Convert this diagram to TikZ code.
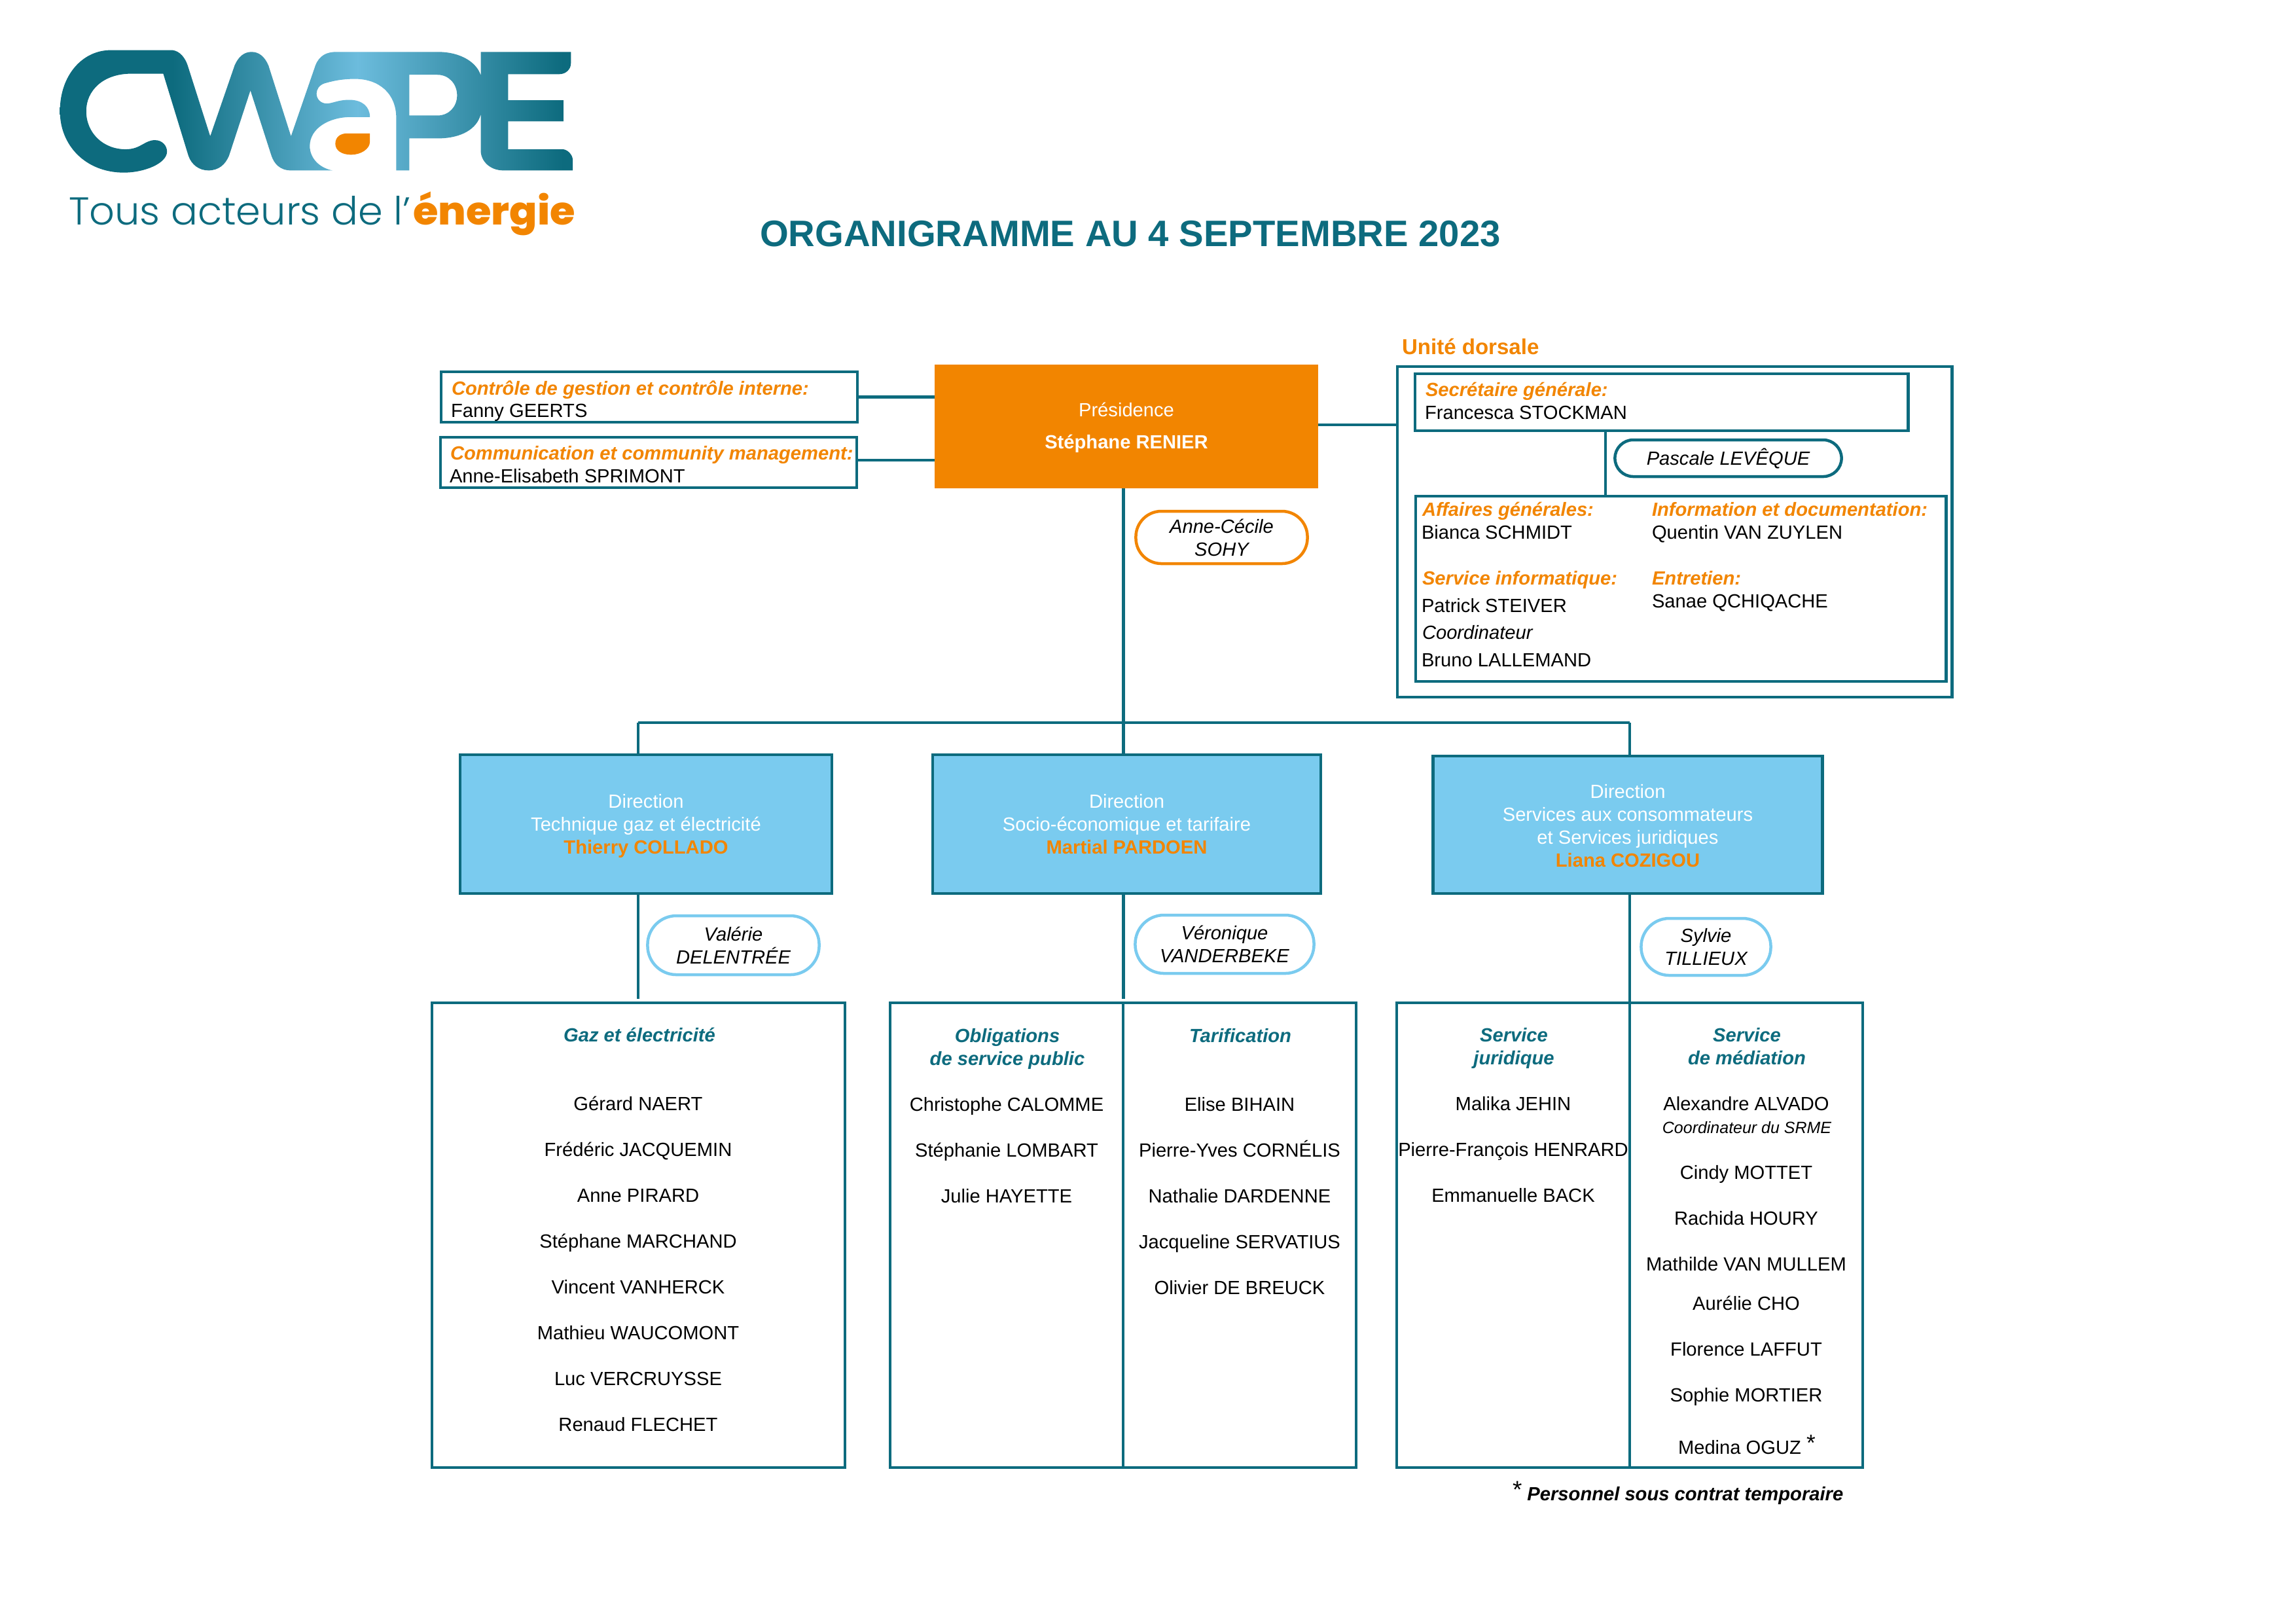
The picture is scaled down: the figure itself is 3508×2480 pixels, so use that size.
\documentclass[tikz,border=0pt]{standalone}
\usepackage{fontspec}
\setmainfont{Liberation Sans}
\newfontfamily\taglight{Poppins Light}[FakeStretch=1.02]
\newfontfamily\tagbold{Poppins ExtraBold}[FakeStretch=1.05]
\usepackage{tikz}

\definecolor{cwapeteal}{HTML}{0D6B7E}
\definecolor{cwapesky}{HTML}{6CBCDD}
\definecolor{cwapeorange}{HTML}{F28500}
\definecolor{cwapeblue}{HTML}{7ACBEF}
\pgfdeclarehorizontalshading{logofade}{100bp}{color(0bp)=(cwapeteal); color(36bp)=(cwapeteal); color(54bp)=(cwapesky); color(74bp)=(cwapeteal); color(100bp)=(cwapeteal)}
\newcommand{\orgfont}{\fontsize{8.29}{9.96}\selectfont}
\newcommand{\toplift}{\rule{0pt}{7.1pt}}

\begin{document}
\begin{tikzpicture}[x=0.01cm, y=-0.01cm]
    \tikzstyle{every node}=[
        font = \orgfont,
        inner sep = 0pt,
        outer sep = 0pt
    ]
    \tikzstyle{white box}=[
        draw = cwapeteal,
        line width = 0.045cm,
        fill = white,
        rectangle
    ]
    \tikzstyle{blue box}=[
        draw = cwapeteal,
        line width = 0.045cm,
        fill = cwapeblue,
        text = white,
        align = center,
        rectangle
    ]
    \tikzstyle{pill}=[
        line width = 0.045cm,
        fill = white,
        align = center,
        font = \orgfont\itshape,
        rectangle
    ]
    \tikzstyle{link}=[
        draw = cwapeteal,
        line width = 0.045cm
    ]
    \tikzstyle{name line}=[anchor = base]
    \tikzstyle{left line}=[anchor = base west]
    \tikzstyle{orange head}=[anchor = base west, text = cwapeorange, font = \orgfont\bfseries\itshape]
    \tikzstyle{teal head}=[anchor = base, text = cwapeteal, font = \orgfont\bfseries\itshape]

    \useasboundingbox (0, 0) rectangle (3508, 2480);

    % logo
    \begin{scope}[shift={(60, 50)}, x=0.00574cm, y=-0.00333cm]
	\shade[shading=logofade, even odd rule] (190, 80) -- (355, 80)
	    .. controls (375, 85) and (388, 115) .. (395, 150) -- (455, 475) -- (520, 150)
	    .. controls (530, 110) and (545, 88) .. (565, 88)
	    .. controls (585, 88) and (600, 110) .. (610, 150) -- (670, 475) -- (735, 150)
	    .. controls (745, 105) and (765, 88) .. (790, 88) -- (1060, 88)
	    .. controls (1125, 88) and (1165, 140) .. (1175, 195) -- (1175, 88) -- (1415, 88) -- (1415, 140)
	    .. controls (1415, 170) and (1400, 190) .. (1385, 190) -- (1248, 190) -- (1248, 310)
	    -- (1395, 310) -- (1395, 407) -- (1248, 407) -- (1248, 535) -- (1395, 535)
	    .. controls (1410, 540) and (1420, 565) .. (1420, 585) -- (1420, 632) -- (1235, 632)
	    .. controls (1200, 632) and (1175, 590) .. (1175, 540) -- (1175, 375)
	    .. controls (1165, 440) and (1125, 485) .. (1060, 485) -- (985, 485) -- (985, 632) -- (950, 632) -- (950, 390)
	    .. controls (950, 280) and (905, 212) .. (840, 212)
	    .. controls (800, 212) and (775, 225) .. (760, 232)
	    .. controls (745, 240) and (738, 260) .. (738, 280)
	    .. controls (738, 305) and (750, 325) .. (765, 325)
	    .. controls (780, 325) and (795, 308) .. (825, 308)
	    .. controls (860, 308) and (880, 340) .. (880, 387) -- (830, 387)
	    .. controls (770, 387) and (720, 440) .. (720, 520)
	    .. controls (720, 575) and (745, 620) .. (780, 632) -- (670, 632)
	    .. controls (640, 632) and (625, 600) .. (618, 565) -- (562, 265) -- (505, 565)
	    .. controls (495, 605) and (478, 632) .. (450, 632)
	    .. controls (425, 632) and (405, 605) .. (397, 565) -- (330, 188) -- (245, 188)
	    .. controls (170, 188) and (125, 265) .. (125, 360)
	    .. controls (125, 460) and (170, 535) .. (230, 535)
	    .. controls (270, 535) and (280, 493) .. (308, 493)
	    .. controls (328, 493) and (340, 520) .. (340, 545)
	    .. controls (340, 600) and (280, 642) .. (225, 642)
	    .. controls (125, 642) and (55, 520) .. (55, 360)
	    .. controls (55, 195) and (115, 80) .. (190, 80) -- cycle
	    (985, 193) -- (1060, 193)
	    .. controls (1090, 193) and (1112, 235) .. (1112, 287)
	    .. controls (1112, 340) and (1090, 380) .. (1060, 380) -- (985, 380) -- cycle;
	\fill[cwapeorange] (820, 462) -- (880, 462) -- (880, 500)
	    .. controls (880, 535) and (855, 560) .. (830, 560)
	    .. controls (805, 560) and (788, 540) .. (788, 510)
	    .. controls (788, 480) and (800, 462) .. (820, 462) -- cycle;
    \end{scope}
	\node[left line, text=cwapeteal, font=\fontsize{16.9}{20}\taglight] (tagline) at (105, 343) {Tous acteurs de l’};
	\node[left line, text=cwapeorange, font=\fontsize{16.9}{20}\tagbold] (tagenergy) at (631, 343) {énergie};

	\node[anchor=base, text=cwapeteal, font=\fontsize{16}{19}\selectfont\bfseries] (title) at (1727, 376) {ORGANIGRAMME AU 4 SEPTEMBRE 2023};

    % top row
	\node[rectangle, fill=cwapeorange, text=white, align=center, minimum width=5.86cm, minimum height=1.89cm] (presid) at (1721, 651.5) {\toplift Présidence\\[4.2pt]\textbf{Stéphane RENIER}};
	\node[white box, minimum width=6.36cm, minimum height=0.77cm] (ctrl) at (992, 606.5) {};
	\node[white box, minimum width=6.36cm, minimum height=0.77cm] (comm) at (991, 706.5) {};
	\node[orange head] (ctrlhead) at (690, 603) {Contrôle de gestion et contrôle interne:};
	\node[left line]   (ctrlname) at (689, 637) {Fanny GEERTS};
	\node[orange head] (commhead) at (688, 702) {Communication et community management:};
	\node[left line]   (commname) at (687, 737) {Anne-Elisabeth SPRIMONT};
	\node[pill, draw=cwapeorange, rounded corners=0.39cm, minimum width=2.62cm, minimum height=0.80cm] (sohy) at (1866.5, 821) {Anne-Cécile\\SOHY};

    % unite dorsale
	\node[anchor=base west, text=cwapeorange, font=\fontsize{9.4}{11}\selectfont\bfseries] (dorsalhead) at (2142, 541) {Unité dorsale};
	\node[white box, minimum width=8.47cm, minimum height=5.05cm] (dorsal) at (2558.5, 812.5) {};
	\node[white box, minimum width=7.53cm, minimum height=0.87cm] (sec) at (2538.5, 614.5) {};
	\node[white box, minimum width=8.10cm, minimum height=2.83cm] (admin) at (2568, 899.5) {};
	\node[pill, draw=cwapeteal, rounded corners=0.28cm, minimum width=3.46cm, minimum height=0.56cm] (leveque) at (2640.5, 700) {Pascale LEVÊQUE};
	\node[orange head] (sechead) at (2178, 605) {Secrétaire générale:};
	\node[left line]   (secname) at (2177, 640) {Francesca STOCKMAN};
	\node[orange head] (affhead) at (2173, 788) {Affaires générales:};
	\node[left line]   (affname) at (2172, 823) {Bianca SCHMIDT};
	\node[orange head] (infohead) at (2524, 788) {Information et documentation:};
	\node[left line]   (infoname) at (2524, 823) {Quentin VAN ZUYLEN};
	\node[orange head] (ithead) at (2173, 893) {Service informatique:};
	\node[left line]   (itnamea) at (2172, 935) {Patrick STEIVER};
	\node[left line, font=\orgfont\itshape] (itrole) at (2173, 976) {Coordinateur};
	\node[left line]   (itnameb) at (2172, 1018) {Bruno LALLEMAND};
	\node[orange head] (cleanhead) at (2524, 893) {Entretien:};
	\node[left line]   (cleanname) at (2524, 928) {Sanae QCHIQACHE};

    % directions
	\node[blue box, minimum width=5.68cm, minimum height=2.12cm] (dirtech) at (987, 1259) {Direction\\Technique gaz et électricité\\\raisebox{0pt}[\height][0pt]{\textcolor{cwapeorange}{\textbf{Thierry COLLADO}}}};
	\node[blue box, minimum width=5.93cm, minimum height=2.12cm] (dirsocio) at (1721.5, 1259) {Direction\\Socio-économique et tarifaire\\\textcolor{cwapeorange}{\textbf{Martial PARDOEN}}};
	\node[blue box, minimum width=5.95cm, minimum height=2.10cm] (dirserv) at (2487, 1260) {\toplift Direction\\Services aux consommateurs\\et Services juridiques\\\textcolor{cwapeorange}{\textbf{Liana COZIGOU}}};
	\node[pill, draw=cwapeblue, rounded corners=0.44cm, minimum width=2.62cm, minimum height=0.90cm] (delentree) at (1120.5, 1444) {Valérie\\DELENTRÉE};
	\node[pill, draw=cwapeblue, rounded corners=0.44cm, minimum width=2.73cm, minimum height=0.89cm] (vanderbeke) at (1871, 1442.5) {Véronique\\VANDERBEKE};
	\node[pill, draw=cwapeblue, rounded corners=0.43cm, minimum width=1.98cm, minimum height=0.87cm] (tillieux) at (2606.5, 1446.5) {Sylvie\\TILLIEUX};

    % services
	\node[white box, minimum width=6.31cm, minimum height=7.10cm] (gaz) at (975.5, 1887) {};
	\node[white box, minimum width=3.56cm, minimum height=7.10cm] (oblig) at (1538, 1887) {};
	\node[white box, minimum width=3.56cm, minimum height=7.10cm] (tarif) at (1894, 1887) {};
	\node[white box, minimum width=3.56cm, minimum height=7.10cm] (jurid) at (2312, 1887) {};
	\node[white box, minimum width=3.56cm, minimum height=7.10cm] (media) at (2668, 1887) {};

	\node[teal head] (gazhead) at (977, 1591) {Gaz et électricité};
	\node[name line] (gaza) at (975, 1696) {Gérard NAERT};
	\node[name line] (gazb) at (975, 1766) {Frédéric JACQUEMIN};
	\node[name line] (gazc) at (975, 1836) {Anne PIRARD};
	\node[name line] (gazd) at (975, 1906) {Stéphane MARCHAND};
	\node[name line] (gaze) at (975, 1976) {Vincent VANHERCK};
	\node[name line] (gazf) at (975, 2046) {Mathieu WAUCOMONT};
	\node[name line] (gazg) at (975, 2116) {Luc VERCRUYSSE};
	\node[name line] (gazh) at (975, 2186) {Renaud FLECHET};

	\node[teal head] (oblighead) at (1539, 1592) {Obligations};
	\node[teal head] (obligsub)  at (1539, 1627) {de service public};
	\node[name line] (obliga) at (1538, 1697) {Christophe CALOMME};
	\node[name line] (obligb) at (1538, 1767) {Stéphanie LOMBART};
	\node[name line] (obligc) at (1538, 1837) {Julie HAYETTE};

	\node[teal head] (tarifhead) at (1895, 1592) {Tarification};
	\node[name line] (tarifa) at (1894, 1697) {Elise BIHAIN};
	\node[name line] (tarifb) at (1894, 1767) {Pierre-Yves CORNÉLIS};
	\node[name line] (tarifc) at (1894, 1837) {Nathalie DARDENNE};
	\node[name line] (tarifd) at (1894, 1907) {Jacqueline SERVATIUS};
	\node[name line] (tarife) at (1894, 1977) {Olivier DE BREUCK};

	\node[teal head] (juridhead) at (2313, 1591) {Service};
	\node[teal head] (juridsub)  at (2313, 1626) {juridique};
	\node[name line] (jurida) at (2312, 1696) {Malika JEHIN};
	\node[name line] (juridb) at (2312, 1766) {Pierre-François HENRARD};
	\node[name line] (juridc) at (2312, 1836) {Emmanuelle BACK};

	\node[teal head] (mediahead) at (2669, 1591) {Service};
	\node[teal head] (mediasub)  at (2669, 1626) {de médiation};
	\node[name line] (mediaa) at (2668, 1696) {Alexandre ALVADO};
	\node[name line, font=\fontsize{7.1}{8.5}\selectfont\itshape] (mediarole) at (2669, 1731) {Coordinateur du SRME};
	\node[name line] (mediab) at (2668, 1801) {Cindy MOTTET};
	\node[name line] (mediac) at (2668, 1871) {Rachida HOURY};
	\node[name line] (mediad) at (2668, 1941) {Mathilde VAN MULLEM};
	\node[name line] (mediae) at (2668, 2001) {Aurélie CHO};
	\node[name line] (mediaf) at (2668, 2071) {Florence LAFFUT};
	\node[name line] (mediag) at (2668, 2141) {Sophie MORTIER};
	\node[left line] (mediah) at (2564, 2221) {Medina OGUZ \raisebox{1.4pt}{\fontsize{10}{11}\selectfont *}};
	\node[left line, font=\orgfont\bfseries\itshape] (note) at (2311, 2292) {\raisebox{1pt}{\fontsize{10.5}{12}\selectfont\mdseries\upshape *} Personnel sous contrat temporaire};

    % connectors
	\coordinate (busleft)  at (975, 1104);
	\coordinate (busmid)   at (1716.5, 1104);
	\coordinate (busright) at (2490, 1104);
	\coordinate (gazstop)  at (975, 1526);
	\coordinate (socstop)  at (1716.5, 1526);
	\coordinate (commjoin) at (1309, 703);
	\coordinate (dorsjoin) at (2014, 649);
	\coordinate (secspine) at (2453, 700);

	\path[link] (ctrl.east) -- (ctrl.east -| presid.west);
	\path[link] (commjoin) -- (commjoin -| presid.west);
	\path[link] (dorsjoin) -- (dorsjoin -| dorsal.west);
	\path[link] (sec.south -| secspine) -- (admin.north -| secspine);
	\path[link] (busleft) -- (busright);
	\path[link] (presid.south -| busmid) -- (dirsocio.north -| busmid);
	\path[link] (busleft) -- (dirtech.north -| busleft);
	\path[link] (busright) -- (dirserv.north -| busright);
	\path[link] (dirtech.south -| gazstop) -- (gazstop);
	\path[link] (dirsocio.south -| socstop) -- (socstop);
	\path[link] (dirserv.south -| busright) -- (jurid.north -| busright);

\end{tikzpicture}
\end{document}
